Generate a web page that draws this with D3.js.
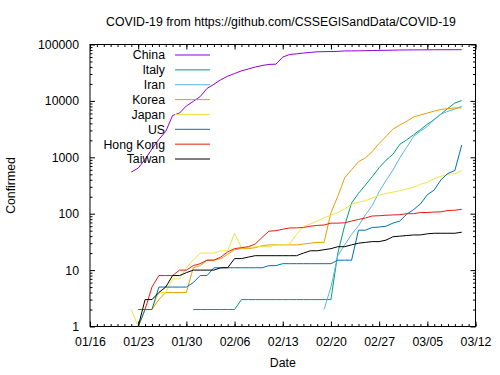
<!DOCTYPE html>
<html>
<head>
<meta charset="utf-8">
<script src="https://cdn.jsdelivr.net/npm/d3@7"></script>
<style>
  body { margin: 0; background: #fff; }
  svg { font-family: 'Liberation Sans', Arial, sans-serif; }
</style>
</head>
<body>
<div id="chart"></div>
<script>
// daily counts from 01/22 to 03/10 (null = no cases yet)
const firstDay = '2020-01-22'
const countries = ['China', 'Italy', 'Iran', 'Korea', 'Japan', 'US', 'Hong Kong', 'Taiwan']
const colors = ['#9400d3', '#009e73', '#56b4e9', '#e69f00', '#f0e442', '#0072b2', '#e51e10', '#000000']

const china = [548, 643, 920, 1406, 2075, 2877, 5509, 6087, 8141, 9802,
  11891, 16630, 19716, 23707, 27440, 30587, 34110, 36814, 39829, 42354,
  44386, 44759, 59895, 66358, 68413, 70513, 72434, 74211, 74619, 75077,
  75550, 77001, 77022, 77241, 77754, 78166, 78600, 78928, 79356,
  79932, 80136, 80261, 80386, 80537, 80690, 80770, 80823, 80860, 80887]
const italy = [null, null, null, null, null, null, null, null, null, 2,
  2, 2, 2, 2, 2, 2, 3, 3, 3, 3,
  3, 3, 3, 3, 3, 3, 3, 3, 3, 3,
  20, 62, 155, 229, 322, 453, 655, 888, 1128,
  1694, 2036, 2502, 3089, 3858, 4636, 5883, 7375, 9172, 10149]
const iran = [null, null, null, null, null, null, null, null, null, null,
  null, null, null, null, null, null, null, null, null, null,
  null, null, null, null, null, null, null, null, 2, 5,
  18, 28, 43, 61, 95, 139, 245, 388, 593,
  978, 1501, 2336, 2922, 3513, 4747, 5823, 6566, 7161, 8042]
const korea = [1, 1, 2, 2, 3, 4, 4, 4, 4, 11,
  12, 15, 15, 16, 19, 23, 24, 24, 25, 27,
  28, 28, 28, 28, 28, 29, 30, 31, 31, 104,
  204, 433, 602, 833, 977, 1261, 1766, 2337, 3150,
  3736, 4335, 5186, 5621, 6088, 6593, 7041, 7314, 7478, 7513]
const japan = [2, 1, 2, 2, 4, 4, 7, 7, 11, 15,
  20, 20, 20, 22, 22, 45, 25, 25, 26, 26,
  26, 28, 28, 29, 43, 59, 66, 74, 84, 94,
  105, 122, 147, 159, 170, 189, 214, 228, 241,
  256, 274, 293, 331, 360, 420, 461, 502, 511, 581]
const us = [1, 1, 2, 2, 5, 5, 5, 5, 5, 6,
  8, 8, 11, 11, 11, 11, 11, 11, 11, 11,
  12, 12, 13, 13, 13, 13, 13, 13, 13, 13,
  15, 15, 15, 51, 51, 57, 58, 60, 68,
  74, 98, 118, 149, 217, 262, 402, 518, 583, 1650]
const hongKong = [null, 2, 2, 5, 8, 8, 8, 10, 10, 12,
  13, 15, 15, 17, 21, 24, 25, 26, 29, 38,
  49, 50, 53, 56, 56, 57, 60, 62, 63, 68,
  68, 69, 74, 79, 84, 91, 92, 94, 95,
  96, 100, 100, 105, 105, 107, 108, 114, 115, 120]
const taiwan = [1, 1, 3, 3, 4, 5, 8, 8, 9, 10,
  10, 10, 10, 11, 11, 16, 16, 17, 18, 18,
  18, 18, 18, 18, 18, 20, 22, 22, 23, 24,
  26, 26, 28, 30, 31, 32, 32, 34, 39,
  40, 41, 42, 42, 44, 45, 45, 45, 45, 47]

const series = [china, italy, iran, korea, japan, us, hongKong, taiwan]
const xTickLabels = ['01/16', '01/23', '01/30', '02/06', '02/13', '02/20', '02/27', '03/05', '03/12']
const yTickValues = [1, 10, 100, 1000, 10000, 100000]

const width = 500
const height = 375
const margin = { top: 44.5, right: 24.5, bottom: 48.5, left: 90 }
const TICK = 5
const MINOR = 2.5
const FONT = '12.3px'

const parseTick = d3.timeParse('%Y/%m/%d')
const xTicks = xTickLabels.map(s => parseTick('2020/' + s))
const start = d3.timeParse('%Y-%m-%d')(firstDay)

const x = d3
  .scaleTime()
  .domain([xTicks[0], xTicks[xTicks.length - 1]])
  .range([margin.left, width - margin.right])

const y = d3
  .scaleLog()
  .domain([1, 100000])
  .range([height - margin.bottom, margin.top])

const svg = d3
  .select('#chart')
  .append('svg')
  .attr('width', width)
  .attr('height', height)

const days = d3.timeDay.range(xTicks[0], d3.timeDay.offset(xTicks[xTicks.length - 1], 1))
const minorY = y.ticks().filter(v => !yTickValues.includes(v))

// ticks, all pointing inward, mirrored on top and right
const axisStyle = g => {
  g.select('.domain').remove()
  g.selectAll('line').attr('stroke', '#000')
  g.selectAll('text').attr('font-size', FONT).attr('fill', '#000')
}

svg.append('g')
  .attr('transform', `translate(0,${height - margin.bottom})`)
  .call(d3.axisBottom(x).tickValues(days).tickSize(-MINOR).tickFormat(''))
  .call(axisStyle)
svg.append('g')
  .attr('transform', `translate(0,${height - margin.bottom})`)
  .call(d3.axisBottom(x).tickValues(xTicks).tickSize(-TICK).tickPadding(11).tickFormat(d3.timeFormat('%m/%d')))
  .call(axisStyle)
svg.append('g')
  .attr('transform', `translate(0,${margin.top})`)
  .call(d3.axisTop(x).tickValues(days).tickSize(-MINOR).tickFormat(''))
  .call(axisStyle)
svg.append('g')
  .attr('transform', `translate(0,${margin.top})`)
  .call(d3.axisTop(x).tickValues(xTicks).tickSize(-TICK).tickFormat(''))
  .call(axisStyle)

svg.append('g')
  .attr('transform', `translate(${margin.left},0)`)
  .call(d3.axisLeft(y).tickValues(minorY).tickSize(-MINOR).tickFormat(''))
  .call(axisStyle)
svg.append('g')
  .attr('transform', `translate(${margin.left},0)`)
  .call(d3.axisLeft(y).tickValues(yTickValues).tickSize(-TICK).tickPadding(11).tickFormat(d3.format('d')))
  .call(axisStyle)
svg.append('g')
  .attr('transform', `translate(${width - margin.right},0)`)
  .call(d3.axisRight(y).tickValues(minorY).tickSize(-MINOR).tickFormat(''))
  .call(axisStyle)
svg.append('g')
  .attr('transform', `translate(${width - margin.right},0)`)
  .call(d3.axisRight(y).tickValues(yTickValues).tickSize(-TICK).tickFormat(''))
  .call(axisStyle)

// border
svg.append('rect')
  .attr('x', margin.left)
  .attr('y', margin.top)
  .attr('width', width - margin.right - margin.left)
  .attr('height', height - margin.bottom - margin.top)
  .attr('fill', 'none')
  .attr('stroke', '#000')
  .attr('stroke-width', 1)

// lines
const line = d3
  .line()
  .defined(d => d != null && d > 0)
  .x((d, i) => x(d3.timeDay.offset(start, i)))
  .y(d => y(d))

svg.append('g')
  .selectAll('path')
  .data(series)
  .join('path')
  .attr('d', d => line(d))
  .attr('fill', 'none')
  .attr('stroke', (d, i) => colors[i])
  .attr('stroke-width', 1)

// key
const legend = svg
  .selectAll('.legend')
  .data(countries)
  .join('g')
  .attr('class', 'legend')
  .attr('transform', (d, i) => `translate(0,${55 + i * 14.86})`)

legend.append('text')
  .attr('x', 165)
  .attr('dy', '0.36em')
  .attr('text-anchor', 'end')
  .attr('font-size', FONT)
  .text(d => d)

legend.append('line')
  .attr('x1', 175)
  .attr('x2', 210)
  .attr('stroke', (d, i) => colors[i])
  .attr('stroke-width', 1)

// titles
svg.append('text')
  .attr('x', 281)
  .attr('y', 22)
  .attr('dy', '0.36em')
  .attr('text-anchor', 'middle')
  .attr('font-size', FONT)
  .text('COVID-19 from https://github.com/CSSEGISandData/COVID-19')

svg.append('text')
  .attr('x', (margin.left + width - margin.right) / 2)
  .attr('y', 363)
  .attr('dy', '0.36em')
  .attr('text-anchor', 'middle')
  .attr('font-size', FONT)
  .text('Date')

svg.append('text')
  .attr('transform', `translate(11,${(margin.top + height - margin.bottom) / 2}) rotate(-90)`)
  .attr('dy', '0.36em')
  .attr('text-anchor', 'middle')
  .attr('font-size', FONT)
  .text('Confirmed')
</script>
</body>
</html>
